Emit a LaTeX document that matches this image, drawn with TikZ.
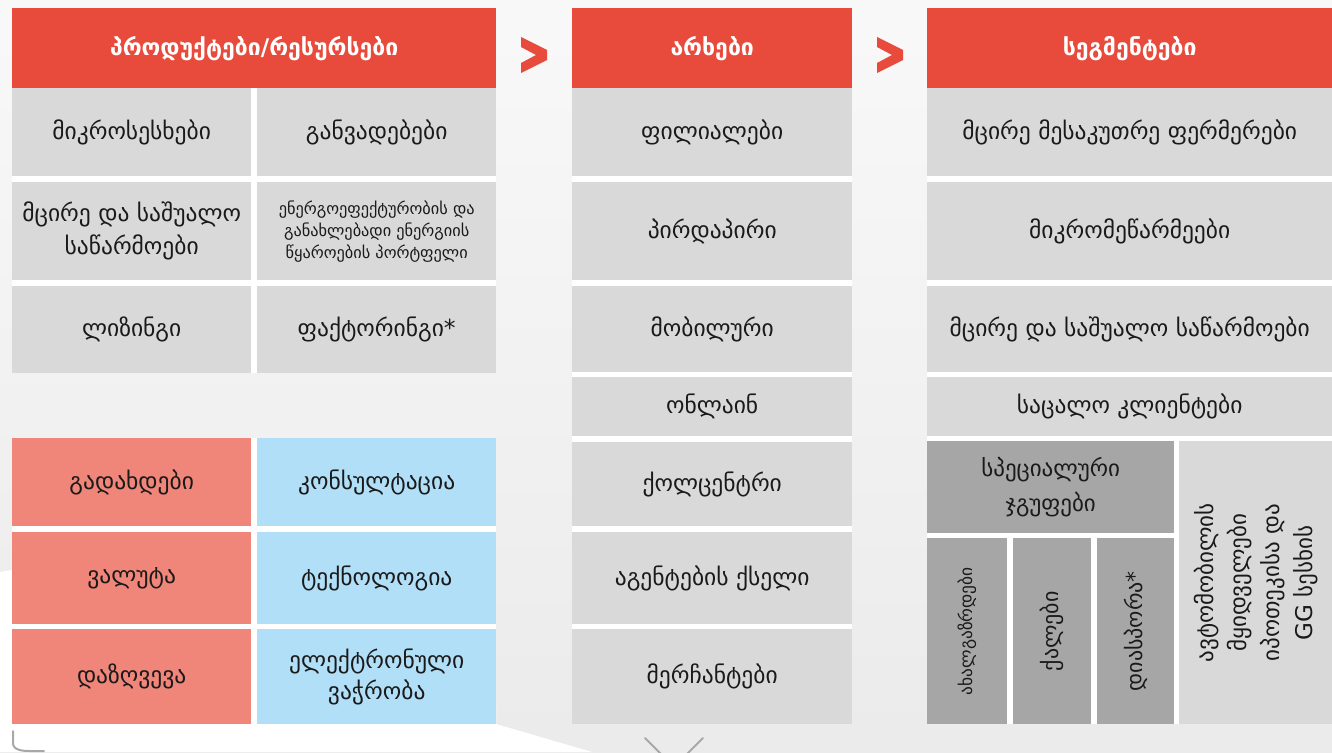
\documentclass[tikz,border=0pt]{standalone}
\usepackage{fontspec}
\setmainfont{DejaVu Sans}
\definecolor{hdred}{HTML}{E84B3C}
\definecolor{cellgray}{HTML}{D9D9D9}
\definecolor{darkcell}{HTML}{A6A6A6}
\definecolor{salmon}{HTML}{F08579}
\definecolor{skyblue}{HTML}{B1DFF7}
\definecolor{bggray}{HTML}{F2F2F2}
\definecolor{txt}{HTML}{1A1A1A}
\definecolor{decogray}{HTML}{A8A8A8}
\tikzset{
  box/.style={rectangle, inner sep=0pt, anchor=north west, align=center, text=txt, font=\fontsize{23.5}{33}\selectfont},
  header/.style={box, fill=hdred, text=white, font=\bfseries\fontsize{23}{28}\selectfont},
  gcell/.style={box, fill=cellgray},
  dcell/.style={box, fill=darkcell},
  rcell/.style={box, fill=salmon},
  bcell/.style={box, fill=skyblue},
  chev/.style={fill=hdred, draw=none},
  deco/.style={draw=decogray, line width=2pt, line cap=round}
}
\begin{document}
\begin{tikzpicture}[x=1pt,y=-1pt]
\useasboundingbox (0,0) rectangle (1332,752);
\clip (0,0) rectangle (1332,752);
% background
\shade[top color=white!50!bggray, bottom color=bggray!97!black] (0,0) rectangle (1332,752);
\fill[white] (0,572) -- (12,570) -- (496,700) -- (496,724) -- (592,752) -- (0,752) -- cycle;
% white separators
\fill[white] (12,88) rectangle (496,373);
\fill[white] (12,438) rectangle (496,724);
\fill[white] (572,88) rectangle (852,724);
\fill[white] (927,88) rectangle (1332,724);

% ---- column 1
\node[header, minimum width=484pt, minimum height=80pt] (h1) at (12,8) {პროდუქტები/რესურსები};
\node[gcell, minimum width=239pt, minimum height=88pt] (p11) at (12,88) {მიკროსესხები};
\node[gcell, minimum width=239pt, minimum height=88pt] (p12) at (257,88) {განვადებები};
\node[gcell, minimum width=239pt, minimum height=98pt] (p21) at (12,182) {მცირე და საშუალო\\საწარმოები};
\node[gcell, minimum width=239pt, minimum height=98pt, font=\fontsize{16.3}{22}\selectfont] (p22) at (257,182) {ენერგოეფექტურობის და\\განახლებადი ენერგიის\\წყაროების პორტფელი};
\node[gcell, minimum width=239pt, minimum height=87pt] (p31) at (12,286) {ლიზინგი};
\node[gcell, minimum width=239pt, minimum height=87pt] (p32) at (257,286) {ფაქტორინგი*};

\node[rcell, minimum width=239pt, minimum height=88pt] (r1) at (12,438) {გადახდები};
\node[rcell, minimum width=239pt, minimum height=92pt] (r2) at (12,532) {ვალუტა};
\node[rcell, minimum width=239pt, minimum height=95pt] (r3) at (12,629) {დაზღვევა};
\node[bcell, minimum width=239pt, minimum height=88pt] (b1) at (257,438) {კონსულტაცია};
\node[bcell, minimum width=239pt, minimum height=92pt] (b2) at (257,532) {ტექნოლოგია};
\node[bcell, minimum width=239pt, minimum height=95pt, font=\fontsize{23.5}{31}\selectfont] (b3) at (257,629) {ელექტრონული\\ვაჭრობა};

% ---- column 2
\node[header, minimum width=280pt, minimum height=80pt] (h2) at (572,8) {არხები};
\node[gcell, minimum width=280pt, minimum height=88pt] (c1) at (572,88) {ფილიალები};
\node[gcell, minimum width=280pt, minimum height=98pt] (c2) at (572,182) {პირდაპირი};
\node[gcell, minimum width=280pt, minimum height=86pt] (c3) at (572,286) {მობილური};
\node[gcell, minimum width=280pt, minimum height=59pt] (c4) at (572,377) {ონლაინ};
\node[gcell, minimum width=280pt, minimum height=84pt] (c5) at (572,442) {ქოლცენტრი};
\node[gcell, minimum width=280pt, minimum height=92pt] (c6) at (572,532) {აგენტების ქსელი};
\node[gcell, minimum width=280pt, minimum height=95pt] (c7) at (572,629) {მერჩანტები};

% ---- column 3
\node[header, minimum width=405pt, minimum height=80pt] (h3) at (927,8) {სეგმენტები};
\node[gcell, minimum width=405pt, minimum height=88pt] (s1) at (927,88) {მცირე მესაკუთრე ფერმერები};
\node[gcell, minimum width=405pt, minimum height=98pt] (s2) at (927,182) {მიკრომეწარმეები};
\node[gcell, minimum width=405pt, minimum height=86pt] (s3) at (927,286) {მცირე და საშუალო საწარმოები};
\node[gcell, minimum width=405pt, minimum height=59pt] (s4) at (927,377) {საცალო კლიენტები};
\node[dcell, minimum width=247pt, minimum height=92pt, font=\fontsize{23}{35}\selectfont] (sg) at (927,441) {სპეციალური\\ჯგუფები};
\node[dcell, minimum width=80pt, minimum height=186pt] (sg1) at (927,538) {};
\node[dcell, minimum width=78pt, minimum height=186pt] (sg2) at (1013,538) {};
\node[dcell, minimum width=77pt, minimum height=186pt] (sg3) at (1097,538) {};
\node[rotate=90, text=txt, font=\fontsize{17.4}{20}\selectfont] (t1) at (sg1.center) {ახალგაზრდები};
\node[rotate=90, text=txt, font=\fontsize{22}{26}\selectfont] (t2) at (sg2.center) {ქალები};
\node[rotate=90, text=txt, font=\fontsize{22}{26}\selectfont] (t3) at (sg3.center) {დიასპორა*};
\node[gcell, minimum width=153pt, minimum height=283pt] (sr) at (1179,441) {};
\node[rotate=90, align=center, text=txt, font=\fontsize{23}{33}\selectfont] (t4) at (sr.center) {ავტომობილის\\მყიდველები\\იპოთეკისა და\\GG სესხის};

% ---- chevrons
\fill[chev] (521,37) -- (547,50) -- (547,60) -- (521,73) -- (521,63) -- (536,55) -- (521,47) -- cycle;
\fill[chev] (877,37) -- (903,50) -- (903,60) -- (877,73) -- (877,63) -- (892,55) -- (877,47) -- cycle;

% ---- bottom decorations
\draw[deco] (13,731) -- (13,743) to[out=-90,in=180] (30,751) -- (44,751);
\draw[deco] (645,738) -- (674,767);
\draw[deco] (703,738) -- (674,767);
\end{tikzpicture}
\end{document}
